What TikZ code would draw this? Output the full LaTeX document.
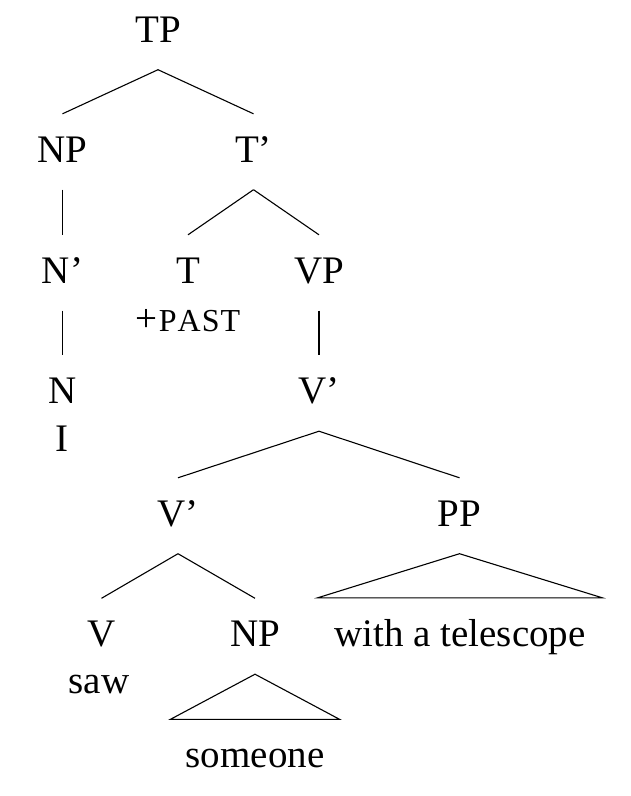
\documentclass[tikz,border=0pt]{standalone}
\usepackage{fontspec}
\setmainfont{Liberation Serif}
\begin{document}
\begin{tikzpicture}[x=1pt,y=-1pt,
  lab/.style={anchor=base, font=\fontsize{39}{47}\selectfont, text height=27pt, text depth=6.5pt, inner ysep=21pt, inner xsep=2pt},
  word/.style={anchor=base, font=\fontsize{39}{47}\selectfont, inner sep=0pt},
  edge/.style={line width=1.1pt}]
\useasboundingbox (0,0) rectangle (630,796);
\node[lab] (TP) at (158,42) {TP};
\node[lab] (NP) at (62.5,162) {NP};
\node[lab] (Tb) at (253.5,162) {T’};
\node[lab] (Nb) at (62.5,283) {N’};
\node[lab] (T) at (188,283) {T};
\node[lab] (VP) at (319,283) {VP};
\node[word] (past) at (188,331) {+\kern1pt{\fontsize{32}{38}\selectfont P\kern1ptA\kern1ptS\kern1ptT}};
\node[lab] (N) at (62.5,403.5) {N};
\node[word] (I) at (62,451.5) {I};
\node[lab] (Vb1) at (319,403.5) {V’};
\node[lab] (Vb2) at (178,526) {V’};
\node[lab] (PP) at (459.5,526) {PP};
\node[lab] (V) at (101.5,646.5) {V};
\node[word] (saw) at (99,693.5) {saw};
\node[lab] (NP2) at (255,646.5) {NP};
\node[lab, inner xsep=16.5pt] (wat) at (460,646) {with a telescope};
\node[lab, inner xsep=15pt] (some) at (255,767.5) {someone};
\draw[edge] (TP.south) -- (NP.north);
\draw[edge] (TP.south) -- (Tb.north);
\draw[edge] (NP.south) -- (Nb.north);
\draw[edge] (Nb.south) -- (N.north);
\draw[edge] (Tb.south) -- (T.north);
\draw[edge] (Tb.south) -- (VP.north);
\draw[edge] (VP.south) -- (Vb1.north);
\draw[edge] (Vb1.south) -- (Vb2.north);
\draw[edge] (Vb1.south) -- (PP.north);
\draw[edge] (Vb2.south) -- (V.north);
\draw[edge] (Vb2.south) -- (NP2.north);
\draw[edge] (PP.south) -- (wat.north west) -- (wat.north east) -- cycle;
\draw[edge] (NP2.south) -- (some.north west) -- (some.north east) -- cycle;
\end{tikzpicture}
\end{document}
